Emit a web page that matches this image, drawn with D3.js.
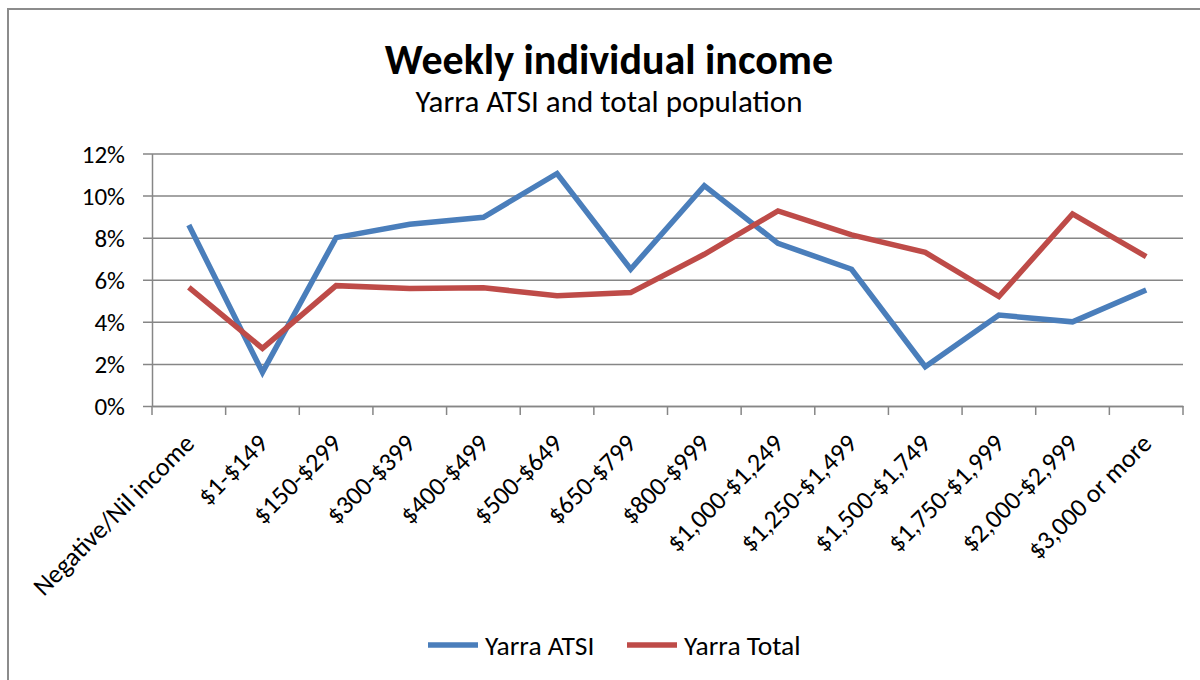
<!DOCTYPE html>
<html>
<head>
<meta charset="utf-8">
<script src="https://cdn.jsdelivr.net/npm/d3@7"></script>
<style>
  html, body { margin: 0; padding: 0; background: #fff; }
  svg { display: block; }
  text { font-family: Carlito, Lato, "Open Sans", sans-serif; fill: #000; }
</style>
</head>
<body>
<svg id="chart" width="1200" height="680"></svg>
<script>
const categories = ["Negative/Nil income", "$1-$149", "$150-$299", "$300-$399", "$400-$499", "$500-$649", "$650-$799", "$800-$999", "$1,000-$1,249", "$1,250-$1,499", "$1,500-$1,749", "$1,750-$1,999", "$2,000-$2,999", "$3,000 or more"];
const yarraATSI  = [8.6, 1.6, 8.0, 8.64, 8.97, 11.05, 6.5, 10.47, 7.73, 6.5, 1.87, 4.32, 4.0, 5.51];
const yarraTotal = [5.64, 2.74, 5.72, 5.58, 5.62, 5.24, 5.39, 7.21, 9.27, 8.13, 7.3, 5.2, 9.13, 7.1];
const yTicks = [0, 2, 4, 6, 8, 10, 12];
const seriesNames = ["Yarra ATSI", "Yarra Total"];
const seriesColors = ["#4A7EBB", "#BE4B48"];
const chartTitle = "Weekly individual income";
const chartSubtitle = "Yarra ATSI and total population";

(function () {
const svg = d3.select("#chart");
const pLeft = 152, pRight = 1183, pTop = 153.5, pBottom = 406;

// outer chart border (top & left visible)
svg.append("path").attr("d", "M8,680 V9 H1200").attr("fill", "none")
  .attr("stroke", "#8c8c8c").attr("stroke-width", 2);

const x = d3.scaleBand().domain(categories).range([pLeft, pRight]).padding(0);
const y = d3.scaleLinear().domain([0, 12]).range([pBottom, pTop]);

// Gridlines + y axis labels
const yAxis = d3.axisLeft(y).tickValues(yTicks).tickFormat(d => d + "%")
  .tickSize(-(pRight - pLeft)).tickSizeOuter(0).tickPadding(27);
const gy = svg.append("g").attr("transform", `translate(${pLeft},0)`).call(yAxis);
gy.select(".domain").attr("stroke", "#868686").attr("stroke-width", 1.5);
gy.selectAll(".tick line").attr("x1", -9).attr("stroke", "#868686").attr("stroke-width", 1.5);
gy.selectAll(".tick text").attr("font-size", 25).attr("font-family", "Carlito, Lato, sans-serif").attr("fill", "#000").attr("dy", "0.34em");

// x axis: labels
const xAxis = d3.axisBottom(x).tickSize(0).tickSizeOuter(0);
const gx = svg.append("g").attr("transform", `translate(0,${pBottom})`).call(xAxis);
gx.select(".domain").attr("stroke", "#868686").attr("stroke-width", 1.5);
gx.selectAll(".tick text")
  .attr("font-size", 26).attr("font-family", "Carlito, Lato, sans-serif").attr("fill", "#000")
  .attr("text-anchor", "end").attr("x", 0).attr("y", 0).attr("dy", 0)
  .attr("transform", "translate(7,39) rotate(-45)");

// x axis boundary ticks
const bounds = categories.map(c => x(c)).concat([x.range()[1]]);
svg.append("g").selectAll("line").data(bounds).join("line")
  .attr("x1", d => d).attr("x2", d => d).attr("y1", pBottom).attr("y2", pBottom + 9)
  .attr("stroke", "#868686").attr("stroke-width", 1.5);

// lines
const line = d3.line().x((d, i) => x(categories[i]) + x.bandwidth() / 2).y(d => y(d));
[yarraATSI, yarraTotal].forEach((s, k) => {
  svg.append("path").datum(s).attr("d", line).attr("fill", "none")
    .attr("stroke", seriesColors[k]).attr("stroke-width", 5.5)
    .attr("stroke-linejoin", "miter").attr("stroke-linecap", "butt");
});

// Title
svg.append("text").attr("x", 609).attr("y", 74).attr("text-anchor", "middle")
  .attr("font-size", 42).attr("font-weight", "bold").text(chartTitle);
svg.append("text").attr("x", 609).attr("y", 112).attr("text-anchor", "middle")
  .attr("font-size", 31).text(chartSubtitle);

// Legend
const legendX = [428, 627];
seriesNames.forEach((n, k) => {
  svg.append("line").attr("x1", legendX[k]).attr("x2", legendX[k] + 50)
    .attr("y1", 645).attr("y2", 645).attr("stroke", seriesColors[k]).attr("stroke-width", 5.5);
  svg.append("text").attr("x", legendX[k] + 57).attr("y", 655).attr("font-size", 27.5).text(n);
});
})();
</script>
</body>
</html>
